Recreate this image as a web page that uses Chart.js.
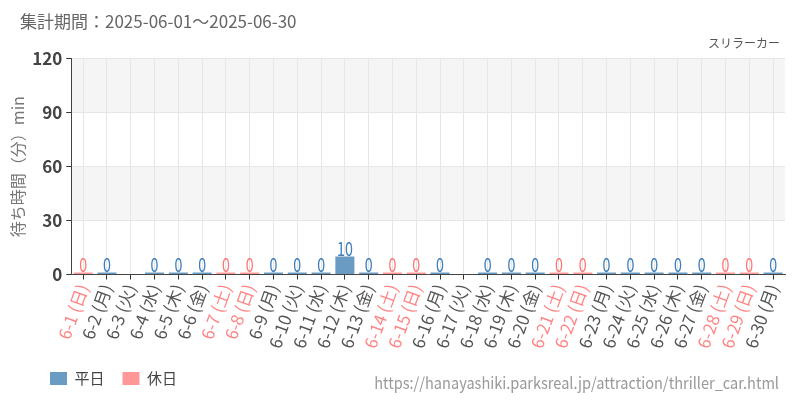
<!DOCTYPE html>
<html>
<head>
<meta charset="utf-8">
<script src="https://cdn.jsdelivr.net/npm/chart.js@4/dist/chart.umd.min.js"></script>
<style>
  html, body { margin: 0; padding: 0; background: #fff; }
  #wrap { width: 800px; height: 400px; }
</style>
</head>
<body>
<div id="wrap"><canvas id="waitChart"></canvas></div>
<script>
// June 2025 daily wait times
const days = ['6-1','6-2','6-3','6-4','6-5','6-6','6-7','6-8','6-9','6-10',
  '6-11','6-12','6-13','6-14','6-15','6-16','6-17','6-18','6-19','6-20',
  '6-21','6-22','6-23','6-24','6-25','6-26','6-27','6-28','6-29','6-30'];
const weekdays = ['日','月','火','水','木','金','土','日','月','火',
  '水','木','金','土','日','月','火','水','木','金',
  '土','日','月','火','水','木','金','土','日','月'];
const holidays = [1,0,0,0,0,0,1,1,0,0, 0,0,0,1,1,0,0,0,0,0, 1,1,0,0,0,0,0,1,1,0];
const waitTimes = [0,0,null,0,0,0,0,0,0,0, 0,10,0,0,0,0,null,0,0,0, 0,0,0,0,0,0,0,0,0,0];
const yTicks = [0, 30, 60, 90, 120];

const labels = days.map((d, i) => d + ' (' + weekdays[i] + ')');
const weekdayData = waitTimes.map((v, i) => holidays[i] ? null : v);
const holidayData = waitTimes.map((v, i) => holidays[i] ? v : null);

const FONT = "'Noto Sans CJK JP', 'Noto Sans', sans-serif";

// alternating grey bands behind the plot
const bandPlugin = {
  id: 'bands',
  afterLayout(chart) {
    // nudge title, subtitle and legend like the original
    chart.titleBlock.left += 12;
    chart.titleBlock.right += 12;
    const sub = chart.boxes.find(b => b.options && b.options.text === 'スリラーカー');
    if (sub) { sub.left -= 5; sub.right -= 5; }
    chart.legend.left += 24;
    chart.legend.right += 24;
  },
  beforeDraw(chart) {
    const { ctx, chartArea, scales } = chart;
    ctx.save();
    ctx.fillStyle = '#f5f5f5';
    for (let i = 1; i < yTicks.length - 1; i += 2) {
      const top = scales.y.getPixelForValue(yTicks[i + 1]);
      const bot = scales.y.getPixelForValue(yTicks[i]);
      ctx.fillRect(chartArea.left, top, chartArea.right - chartArea.left, bot - top);
    }
    ctx.restore();
  }
};

// value labels above bars + source url
const valuePlugin = {
  id: 'values',
  afterDatasetsDraw(chart) {
    const { ctx } = chart;
    ctx.save();
    ctx.font = '19px ' + FONT;
    ctx.textAlign = 'center';
    ctx.textBaseline = 'bottom';
    chart.data.datasets.forEach((ds, di) => {
      const meta = chart.getDatasetMeta(di);
      meta.data.forEach((bar, i) => {
        const v = ds.data[i];
        if (v === null || v === undefined) return;
        ctx.fillStyle = di === 0 ? '#3d7fbd' : '#ff7878';
        ctx.save();
        ctx.translate(bar.x, Math.min(bar.y, bar.base - 2) + 2);
        ctx.scale(0.75, 1);
        ctx.fillText(String(v), 0, 0);
        ctx.restore();
      });
    });
    ctx.restore();
  },
  afterDraw(chart) {
    const { ctx } = chart;
    ctx.save();
    ctx.font = '16px ' + FONT;
    ctx.fillStyle = '#999';
    ctx.textAlign = 'right';
    ctx.textBaseline = 'middle';
    ctx.translate(779, 383);
    ctx.scale(0.91, 1);
    ctx.fillText('https://hanayashiki.parksreal.jp/attraction/thriller_car.html', 0, 0);
    ctx.restore();
  }
};

new Chart(document.getElementById('waitChart'), {
  type: 'bar',
  data: {
    labels: labels,
    datasets: [
      {
        label: '平日',
        data: weekdayData,
        backgroundColor: '#6a9bc3',
        minBarLength: 2,
        barPercentage: 1,
        categoryPercentage: 0.8
      },
      {
        label: '休日',
        data: holidayData,
        backgroundColor: '#ff9797',
        minBarLength: 2,
        barPercentage: 1,
        categoryPercentage: 0.8
      }
    ]
  },
  options: {
    responsive: true,
    maintainAspectRatio: false,
    animation: false,
    layout: { padding: { left: 8, right: 15, top: 0, bottom: 4 } },
    plugins: {
      title: {
        display: true,
        text: '集計期間：2025-06-01～2025-06-30',
        align: 'start',
        color: '#666',
        font: { family: FONT, size: 17, weight: 'normal' },
        padding: { top: 11, bottom: 5 }
      },
      subtitle: {
        display: true,
        text: 'スリラーカー',
        align: 'end',
        color: '#555',
        font: { family: FONT, size: 12 },
        padding: { top: 0, bottom: 8 }
      },
      legend: {
        position: 'bottom',
        align: 'start',
        labels: {
          boxWidth: 17,
          boxHeight: 13,
          color: '#444',
          font: { family: FONT, size: 15 },
          padding: 18
        }
      },
      tooltip: { enabled: false }
    },
    scales: {
      x: {
        stacked: true,
        grid: { offset: false, color: '#e6e6e6', tickColor: '#333', tickLength: 5 },
        border: { color: '#444' },
        ticks: {
          minRotation: 70,
          maxRotation: 70,
          autoSkip: false,
          padding: 2,
          color: ctx => holidays[ctx.index] ? '#ff8585' : '#555',
          font: { family: FONT, size: 17 }
        }
      },
      y: {
        stacked: true,
        min: 0,
        max: 120,
        afterBuildTicks: axis => { axis.ticks = yTicks.map(v => ({ value: v })); },
        grid: { color: '#e6e6e6', tickColor: '#333', tickLength: 5 },
        border: { color: '#444' },
        ticks: {
          color: '#444',
          padding: 4,
          font: { family: FONT, size: 17, weight: 'bold' }
        },
        title: {
          display: true,
          text: '待ち時間（分）min',
          color: '#777',
          font: { family: FONT, size: 16 },
          padding: { top: 0, bottom: 1 }
        }
      }
    }
  },
  plugins: [bandPlugin, valuePlugin]
});
</script>
</body>
</html>
